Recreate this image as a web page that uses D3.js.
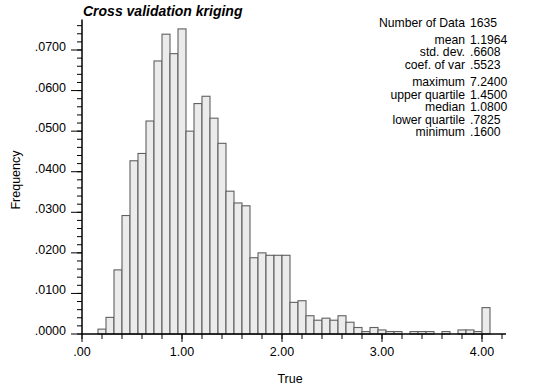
<!DOCTYPE html>
<html><head><meta charset="utf-8">
<script src="https://cdn.jsdelivr.net/npm/d3@7"></script>
<style>
html,body{margin:0;padding:0;background:#fff;}
svg{display:block;font-family:"Liberation Sans",Arial,Helvetica,sans-serif;}
</style></head>
<body>
<svg id="chart" width="538" height="389"></svg>
<script>
// ---- data ----
const binStarts = [0.16,0.24,0.32,0.40,0.48,0.56,0.64,0.72,0.80,0.88,0.96,1.04,1.12,1.20,1.28,1.36,1.44,1.52,1.60,1.68,1.76,1.84,1.92,2.00,2.08,2.16,2.24,2.32,2.40,2.48,2.56,2.64,2.72,2.80,2.88,2.96,3.04,3.12,3.20,3.28,3.36,3.44,3.52,3.60,3.68,3.76,3.84,3.92,4.00];
const frequencies = [0.0012,0.0041,0.0158,0.0292,0.0427,0.0445,0.0525,0.0673,0.0739,0.0691,0.0752,0.0500,0.0568,0.0586,0.0532,0.0470,0.0352,0.0323,0.0316,0.0188,0.0200,0.0194,0.0194,0.0194,0.0078,0.0082,0.0045,0.0034,0.0039,0.0034,0.0045,0.0029,0.0016,0.0006,0.0016,0.0010,0.0006,0.0006,0,0.0006,0.0006,0.0006,0,0.0006,0,0.0010,0.0010,0.0006,0.0065];
const binWidth = 0.08;
const xMajorTicks = [0,1,2,3,4];
const xMinorTicks = [0,0.2,0.4,0.6,0.8,1.0,1.2,1.4,1.6,1.8,2.0,2.2,2.4,2.6,2.8,3.0,3.2,3.4,3.6,3.8,4.0,4.2];
const yMajorTicks = [0,0.01,0.02,0.03,0.04,0.05,0.06,0.07];
const yMinorTicks = d3.range(0, 39).map(i => +(i*0.002).toFixed(3));
const statLabels = ["Number of Data","mean","std. dev.","coef. of var","maximum","upper quartile","median","lower quartile","minimum"];
const statValues = ["1635","1.1964",".6608",".5523","7.2400","1.4500","1.0800",".7825",".1600"];
const title = "Cross validation kriging";
const xTitle = "True";
const yTitle = "Frequency";

// ---- layout ----
const svg = d3.select("#chart");
const x = d3.scaleLinear().domain([0, 4.24]).range([82, 506]);
const y = d3.scaleLinear().domain([0, 0.0775]).range([334, 334 - 0.0775*4057]);

const fmtX = v => v === 0 ? ".00" : d3.format(".2f")(v);
const fmtY = v => v === 0 ? ".0000" : d3.format(".4f")(v).replace(/^0/, "");

// bars
svg.append("g").selectAll("rect")
  .data(binStarts.map((b,i)=>({b, f: frequencies[i]})).filter(d=>d.f>0))
  .join("rect")
  .attr("x", d => x(d.b))
  .attr("width", d => x(d.b + binWidth) - x(d.b))
  .attr("y", d => y(d.f))
  .attr("height", d => y(0) - y(d.f))
  .attr("fill", "#ebebeb")
  .attr("stroke", "#606060")
  .attr("stroke-width", 1.1);

// y axis
const gy = svg.append("g");
gy.append("line").attr("x1", x(0)).attr("x2", x(0)).attr("y1", y(0)).attr("y2", y.range()[1]).attr("stroke","#000").attr("stroke-width",1.5);
gy.selectAll("line.minor").data(yMinorTicks).join("line").attr("class","minor")
  .attr("x1", x(0)-5).attr("x2", x(0)).attr("y1", d=>y(d)).attr("y2", d=>y(d)).attr("stroke","#000").attr("stroke-width",1);
gy.selectAll("line.major").data(yMajorTicks).join("line").attr("class","major")
  .attr("x1", x(0)-11).attr("x2", x(0)).attr("y1", d=>y(d)).attr("y2", d=>y(d)).attr("stroke","#000").attr("stroke-width",1);
gy.selectAll("text").data(yMajorTicks).join("text")
  .attr("x", 66).attr("y", d=>y(d)+1).attr("text-anchor","end")
  .attr("font-size", 12.5).text(fmtY);

// x axis
const gx = svg.append("g");
gx.append("line").attr("x1", x(0)).attr("x2", x.range()[1]).attr("y1", y(0)).attr("y2", y(0)).attr("stroke","#000").attr("stroke-width",1.5);
gx.selectAll("line.minor").data(xMinorTicks).join("line").attr("class","minor")
  .attr("x1", d=>x(d)).attr("x2", d=>x(d)).attr("y1", y(0)).attr("y2", y(0)+5).attr("stroke","#000").attr("stroke-width",1);
gx.selectAll("line.major").data(xMajorTicks).join("line").attr("class","major")
  .attr("x1", d=>x(d)).attr("x2", d=>x(d)).attr("y1", y(0)).attr("y2", y(0)+8).attr("stroke","#000").attr("stroke-width",1);
gx.selectAll("text").data(xMajorTicks).join("text")
  .attr("x", d=>x(d)).attr("y", 356).attr("text-anchor","middle")
  .attr("font-size", 12.5).text(fmtX);

// axis titles
svg.append("text").attr("x", 290).attr("y", 383).attr("text-anchor","middle").attr("font-size",12.5).text(xTitle);
svg.append("text").attr("transform","translate(20,180) rotate(-90)").attr("text-anchor","middle").attr("font-size",12.5).text(yTitle);

// title
svg.append("text").attr("x", 83).attr("y", 16).attr("font-size",14).attr("font-weight","bold").attr("font-style","italic").text(title);

// stats
const statY = [23,39.5,52,64.5,81.5,94.5,107,119.5,132];
const gs = svg.append("g").attr("font-size",12.2);
statLabels.forEach((l,i)=>{
  gs.append("text").attr("x",465).attr("y",statY[i]+4).attr("text-anchor","end").text(l);
  gs.append("text").attr("x",470).attr("y",statY[i]+4).text(statValues[i]);
});
</script>
</body></html>
